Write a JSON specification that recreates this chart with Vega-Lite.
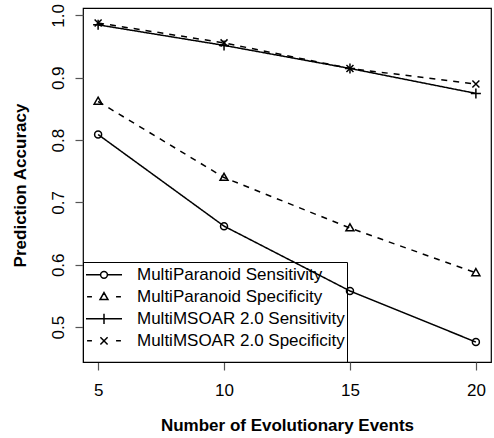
{
  "$schema": "https://vega.github.io/schema/vega-lite/v6.json",
  "width": 408,
  "height": 354,
  "autosize": {"type": "none"},
  "padding": {"left": 83, "top": 8, "right": 3, "bottom": 76},
  "background": "white",
  "config": {
    "view": {"stroke": "black", "strokeWidth": 1.2},
    "font": "Liberation Sans"
  },
  "data": {
    "values": [
      {"series": "MultiParanoid Sensitivity", "events": 5, "accuracy": 0.809},
      {"series": "MultiParanoid Sensitivity", "events": 10, "accuracy": 0.662},
      {"series": "MultiParanoid Sensitivity", "events": 15, "accuracy": 0.558},
      {"series": "MultiParanoid Sensitivity", "events": 20, "accuracy": 0.476},
      {"series": "MultiParanoid Specificity", "events": 5, "accuracy": 0.862},
      {"series": "MultiParanoid Specificity", "events": 10, "accuracy": 0.740},
      {"series": "MultiParanoid Specificity", "events": 15, "accuracy": 0.659},
      {"series": "MultiParanoid Specificity", "events": 20, "accuracy": 0.587},
      {"series": "MultiMSOAR 2.0 Sensitivity", "events": 5, "accuracy": 0.985},
      {"series": "MultiMSOAR 2.0 Sensitivity", "events": 10, "accuracy": 0.952},
      {"series": "MultiMSOAR 2.0 Sensitivity", "events": 15, "accuracy": 0.915},
      {"series": "MultiMSOAR 2.0 Sensitivity", "events": 20, "accuracy": 0.875},
      {"series": "MultiMSOAR 2.0 Specificity", "events": 5, "accuracy": 0.988},
      {"series": "MultiMSOAR 2.0 Specificity", "events": 10, "accuracy": 0.956},
      {"series": "MultiMSOAR 2.0 Specificity", "events": 15, "accuracy": 0.915},
      {"series": "MultiMSOAR 2.0 Specificity", "events": 20, "accuracy": 0.890}
    ]
  },
  "encoding": {
    "x": {
      "field": "events", "type": "quantitative",
      "scale": {"domain": [4.4, 20.6], "nice": false, "zero": false},
      "axis": {
        "values": [5, 10, 15, 20],
        "title": "Number of Evolutionary Events",
        "titleFont": "Liberation Sans", "titleFontSize": 17, "titleFontWeight": "bold", "titleColor": "black",
        "labelFont": "Liberation Sans", "labelFontSize": 17, "labelColor": "black",
        "tickColor": "#555", "tickSize": 8, "tickWidth": 1.2,
        "domain": false, "grid": false, "labelPadding": 12, "titlePadding": 19, "labelFlush": false
      }
    },
    "y": {
      "field": "accuracy", "type": "quantitative",
      "scale": {"domain": [0.444, 1.012], "nice": false, "zero": false},
      "axis": {
        "values": [0.5, 0.6, 0.7, 0.8, 0.9, 1.0],
        "format": ".1f",
        "title": "Prediction Accuracy",
        "titleFont": "Liberation Sans", "titleFontSize": 17, "titleFontWeight": "bold", "titleColor": "black",
        "labelFont": "Liberation Sans", "labelFontSize": 17, "labelColor": "black",
        "labelAngle": -90, "labelAlign": "center", "labelBaseline": "bottom",
        "tickColor": "#555", "tickSize": 8, "tickWidth": 1.2,
        "domain": false, "grid": false, "labelPadding": 8, "titlePadding": 20, "labelFlush": false
      }
    }
  },
  "layer": [
    {
      "mark": {"type": "line", "color": "black", "strokeWidth": 1.5},
      "encoding": {
        "strokeDash": {
          "field": "series", "type": "nominal",
          "scale": {
            "domain": ["MultiParanoid Sensitivity", "MultiParanoid Specificity", "MultiMSOAR 2.0 Sensitivity", "MultiMSOAR 2.0 Specificity"],
            "range": [[1, 0], [6, 6], [1, 0], [6, 6]]
          },
          "legend": null
        }
      }
    },
    {
      "mark": {"type": "point", "filled": false, "color": "black", "strokeWidth": 1.5, "opacity": 1, "size": 100},
      "encoding": {
        "shape": {
          "field": "series", "type": "nominal",
          "scale": {
            "domain": ["MultiParanoid Sensitivity", "MultiParanoid Specificity", "MultiMSOAR 2.0 Sensitivity", "MultiMSOAR 2.0 Specificity"],
            "range": [
              "M0.7,0A0.7,0.7 0 1,1 -0.7,0A0.7,0.7 0 1,1 0.7,0Z",
              "M0,-0.85L0.8,0.55L-0.8,0.55Z",
              "M-1,0L1,0M0,-1L0,1",
              "M-0.7,-0.7L0.7,0.7M-0.7,0.7L0.7,-0.7"
            ]
          },
          "legend": null
        }
      }
    },
    {
      "mark": {"type": "point", "filled": false, "color": "black", "strokeWidth": 1.5, "opacity": 0, "size": 1296},
      "encoding": {
        "shape": {
          "field": "series", "type": "nominal",
          "scale": {
            "domain": ["MultiParanoid Sensitivity", "MultiParanoid Specificity", "MultiMSOAR 2.0 Sensitivity", "MultiMSOAR 2.0 Specificity"],
            "range": [
              "M-1,0L-0.19,0M0.19,0L1,0M0.19,0A0.19,0.19 0 1,1 -0.19,0A0.19,0.19 0 1,1 0.19,0",
              "M-0.94,0L-0.67,0M0.67,0L0.94,0M0,-0.24L0.22,0.15L-0.22,0.15Z",
              "M-1,0L1,0M0,-0.28L0,0.28",
              "M-0.94,0L-0.67,0M0.67,0L0.94,0M-0.2,-0.2L0.2,0.2M-0.2,0.2L0.2,-0.2"
            ]
          },
          "legend": {
            "title": " ",
            "titleOrient": "bottom",
            "titleFontSize": 7.5,
            "titlePadding": 0,
            "orient": "bottom-left",
            "offset": 0,
            "padding": 2,
            "strokeColor": "black",
            "labelFont": "Liberation Sans",
            "labelFontSize": 17,
            "labelColor": "black",
            "labelLimit": 0,
            "symbolSize": 1296,
            "symbolStrokeWidth": 1.5,
            "symbolStrokeColor": "black",
            "symbolOpacity": 1,
            "labelOffset": 14,
            "clipHeight": 21.7,
            "rowPadding": 0,
            "encode": {"symbols": {"update": {"opacity": {"value": 1}}}}
          }
        }
      }
    }
  ],
  "resolve": {"scale": {"shape": "independent"}}
}
